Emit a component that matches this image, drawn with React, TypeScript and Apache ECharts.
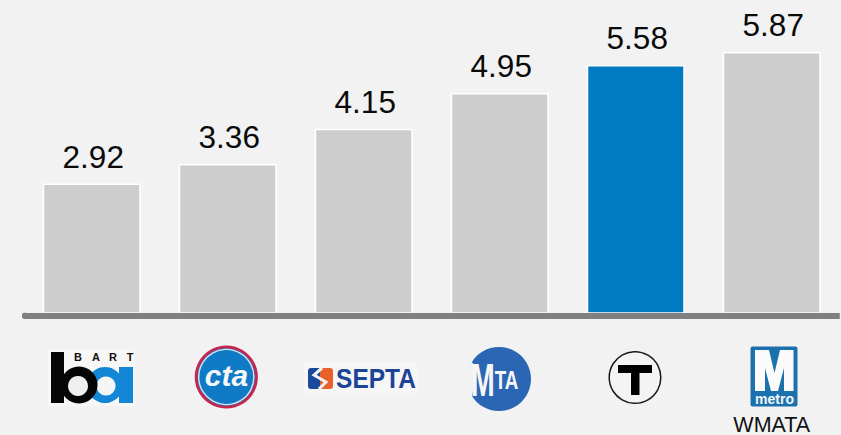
import React, { useEffect, useRef } from "react";
import * as echarts from "echarts";

const categories = ["BART", "CTA", "SEPTA", "MTA", "MBTA", "WMATA"];
const values = [2.92, 3.36, 4.15, 4.95, 5.58, 5.87];
const highlighted = "MBTA";
const labelledCategory = "WMATA";

const BG = "#f2f2f2";
const AXIS = "#808080";
const FONT = "'Liberation Sans', Arial, sans-serif";

const bartLetters = [
  { t: "B", x: 78 },
  { t: "A", x: 96 },
  { t: "R", x: 113 },
  { t: "T", x: 130 },
];

function logos() {
  const black = "#050505";
  const bartBlue = "#1387d6";
  const septa = "#1c4396";
  const els: any[] = [
    // rounded left end of the baseline
    { type: "rect", shape: { x: 22, y: 312.7, width: 6, height: 6, r: 2 }, style: { fill: AXIS } },
    // BART
    { type: "rect", shape: { x: 48, y: 349, width: 87, height: 57 }, style: { fill: "#f7f7f7" } },
    { type: "circle", shape: { cx: 105, cy: 385, r: 18 }, style: { fill: bartBlue } },
    { type: "rect", shape: { x: 119, y: 367, width: 14, height: 36 }, style: { fill: bartBlue } },
    { type: "circle", shape: { cx: 106, cy: 386, r: 9.5 }, style: { fill: "#f5f5f5" } },
    { type: "rect", shape: { x: 51, y: 352, width: 13, height: 51 }, style: { fill: black } },
    { type: "circle", shape: { cx: 79, cy: 385, r: 18.5 }, style: { fill: black } },
    { type: "circle", shape: { cx: 78, cy: 386, r: 10 }, style: { fill: "#efefef" } },
    ...bartLetters.map((l) => ({
      type: "text",
      x: l.x,
      y: 357,
      style: { text: l.t, fill: "#111", font: `bold 11px ${FONT}`, textAlign: "center", textVerticalAlign: "middle" },
    })),
    // CTA
    { type: "circle", shape: { cx: 226.3, cy: 377, r: 30.2 }, style: { fill: "#1079c4", stroke: "#c8264f", lineWidth: 2.8 } },
    { type: "circle", shape: { cx: 226.3, cy: 377, r: 27.6 }, style: { fill: "#0f7bc6", stroke: "#d9e3ee", lineWidth: 1.4 } },
    {
      type: "text",
      x: 226.5,
      y: 375,
      style: { text: "cta", fill: "#f4f6f8", font: `italic bold 30px ${FONT}`, textAlign: "center", textVerticalAlign: "middle" },
    },
    // SEPTA
    { type: "rect", shape: { x: 304, y: 362, width: 113, height: 33 }, style: { fill: "#f6f6f6" } },
    { type: "rect", shape: { x: 308, y: 368, width: 13, height: 21, r: [3, 0, 0, 3] }, style: { fill: "#1a4a9c" } },
    { type: "rect", shape: { x: 320, y: 368, width: 13, height: 21, r: [0, 3, 3, 0] }, style: { fill: "#e9602b" } },
    { type: "polyline", shape: { points: [[322, 368], [314, 375], [326, 382], [319, 389]] }, style: { stroke: "#f4f4f4", lineWidth: 3, fill: "none" } },
    {
      type: "text",
      x: 376,
      y: 379,
      scaleY: 1.1,
      style: { text: "SEPTA", fill: septa, font: `bold 24.5px ${FONT}`, textAlign: "center", textVerticalAlign: "middle" },
    },
    // MTA
    { type: "circle", shape: { cx: 499, cy: 379, r: 32 }, style: { fill: "#2a66b3" } },
    { type: "polygon", shape: { points: [[465, 360], [473, 363], [476, 372], [472, 398], [465, 400]] }, style: { fill: BG } },
    {
      type: "text",
      x: 483,
      y: 380,
      scaleX: 0.62,
      style: { text: "M", fill: "#f6f6f6", font: `bold 46px ${FONT}`, textAlign: "center", textVerticalAlign: "middle" },
    },
    {
      type: "text",
      x: 506.5,
      y: 381,
      scaleX: 0.75,
      style: { text: "TA", fill: "#f6f6f6", font: `bold 25px ${FONT}`, textAlign: "center", textVerticalAlign: "middle" },
    },
    // MBTA
    { type: "circle", shape: { cx: 635, cy: 377.5, r: 25.8 }, style: { fill: "#f4f4f4", stroke: "#1a1a1a", lineWidth: 1.5 } },
    {
      type: "polygon",
      shape: { points: [[618, 365], [652, 365], [652, 373], [639.5, 373], [639.5, 395], [631, 395], [631, 373], [618, 373]] },
      style: { fill: "#000" },
    },
    // WMATA
    { type: "rect", shape: { x: 750.5, y: 346.5, width: 47, height: 60, r: 2 }, style: { fill: "#1a71ae" } },
    {
      type: "polygon",
      shape: {
        points: [
          [755, 350], [769, 350], [774.5, 373], [780, 350], [793.5, 350], [793.5, 391], [784, 391], [784, 368],
          [778, 391], [771, 391], [765, 368], [765, 391], [755, 391],
        ],
      },
      style: { fill: "#fbfbfb" },
    },
    {
      type: "text",
      x: 774.5,
      y: 398.5,
      style: { text: "metro", fill: "#f4f6f8", font: `bold 14px ${FONT}`, textAlign: "center", textVerticalAlign: "middle" },
    },
  ];
  return els;
}

export default function App() {
  const ref = useRef<HTMLDivElement>(null);
  useEffect(() => {
    document.body.style.margin = "0";
    const chart = echarts.init(ref.current!, undefined, { renderer: "svg" });
    chart.setOption({
      animation: false,
      backgroundColor: BG,
      grid: { left: 23.75, right: 1.25, top: 46.15, bottom: 121.25, containLabel: false, outerBoundsMode: "none" },
      xAxis: {
        type: "category",
        data: categories,
        offset: 1.95,
        z: 5,
        axisTick: { show: false },
        axisLine: { onZero: false, lineStyle: { color: AXIS, width: 6, cap: "butt" } },
        axisLabel: {
          interval: 0,
          margin: 99.3,
          lineHeight: 19,
          fontFamily: FONT,
          fontSize: 21.5,
          color: "#111",
          formatter: (v: string) => (v === labelledCategory ? v : ""),
        },
      },
      yAxis: { type: "value", min: 0, max: 6, show: false },
      series: [
        {
          type: "bar",
          barWidth: 98,
          data: values.map((v, i) => ({
            value: v,
            itemStyle: { color: categories[i] === highlighted ? "#007ac3" : "#cdcdcd" },
          })),
          itemStyle: { borderColor: "#ffffff", borderWidth: 1.5 },
          label: {
            show: true,
            position: "top",
            distance: 11,
            offset: [1.5, 0],
            fontFamily: FONT,
            fontSize: 31.5,
            color: "#0a0a0a",
            formatter: (p: any) => p.value.toFixed(2),
          },
          z: 1,
        },
      ],
      graphic: { elements: logos() },
    });
    return () => chart.dispose();
  }, []);
  return <div ref={ref} style={{ width: 841, height: 435 }} />;
}
